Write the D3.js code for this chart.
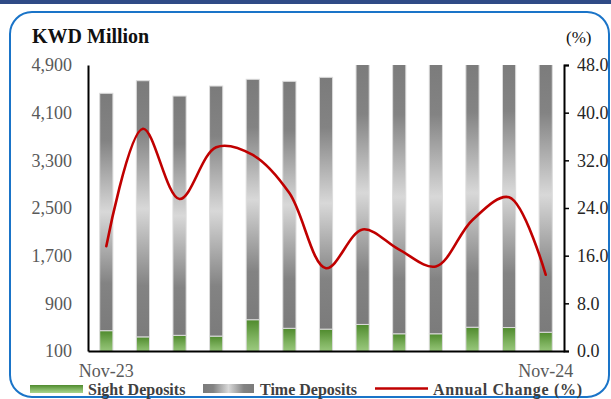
<!DOCTYPE html>
<html>
<head>
<meta charset="utf-8">
<script src="https://cdn.jsdelivr.net/npm/d3@7/dist/d3.min.js"></script>
<style>
  html, body { margin: 0; padding: 0; background: #fff; }
  svg { display: block; font-family: "Liberation Serif", "Times New Roman", serif; }
</style>
</head>
<body>
<svg id="chart" width="611" height="399"></svg>
<script>
// Monthly deposits (KWD million) and their annual change (%)
const months = ["Nov-23","Dec-23","Jan-24","Feb-24","Mar-24","Apr-24","May-24",
                "Jun-24","Jul-24","Aug-24","Sep-24","Oct-24","Nov-24"];
const sightDeposits = [441, 337, 363, 350, 625, 481, 467, 546, 389, 389, 499, 494, 415];
const timeDeposits  = [3984, 4299, 4016, 4197, 4035, 4145, 4226, 4414, 4596, 4601, 4511, 4536, 4605];
const annualChange  = [17.6, 37.3, 25.5, 34.2, 32.9, 26.5, 13.9, 20.4, 17.0, 14.2, 22.0, 25.8, 12.8];

const leftTicks  = [100, 900, 1700, 2500, 3300, 4100, 4900];
const rightTicks = [0, 8, 16, 24, 32, 40, 48];
const xTickLabels = ["Nov-23", "Nov-24"];

const svg = d3.select("#chart");
const defs = svg.append("defs");

// Plot area
const plot = { left: 88, right: 564, top: 65, bottom: 351 };

// Header band and rounded frame
svg.append("rect").attr("x", 0).attr("y", 0).attr("width", 611).attr("height", 4).attr("fill", "#2f4b86");
svg.append("rect")
  .attr("x", 10).attr("y", 12).attr("width", 599).attr("height", 385)
  .attr("rx", 22).attr("ry", 22)
  .attr("fill", "#fff").attr("stroke", "#1a74c8").attr("stroke-width", 2);

// Gradients
const greyStops = [[0, "#7b7b7b"], [0.2, "#838383"], [0.5, "#d8d8d8"], [0.8, "#838383"], [1, "#7b7b7b"]];
const greyGrad = defs.append("linearGradient").attr("id", "greyGrad")
  .attr("x1", 0).attr("y1", 0).attr("x2", 0).attr("y2", 1);
greyStops.forEach(([o, c]) => greyGrad.append("stop").attr("offset", o).attr("stop-color", c));
const greyGradH = defs.append("linearGradient").attr("id", "greyGradH")
  .attr("x1", 0).attr("y1", 0).attr("x2", 1).attr("y2", 0);
greyStops.forEach(([o, c]) => greyGradH.append("stop").attr("offset", o).attr("stop-color", c));
const greenGrad = defs.append("linearGradient").attr("id", "greenGrad")
  .attr("x1", 0).attr("y1", 0).attr("x2", 0).attr("y2", 1);
[[0, "#4f8a2d"], [0.5, "#7fb360"], [1, "#a9d48e"]]
  .forEach(([o, c]) => greenGrad.append("stop").attr("offset", o).attr("stop-color", c));

defs.append("clipPath").attr("id", "plotClip").append("rect")
  .attr("x", plot.left).attr("y", plot.top)
  .attr("width", plot.right - plot.left).attr("height", plot.bottom - plot.top);

// Scales
const x = d3.scaleBand().domain(months).range([plot.left, plot.right])
  .paddingInner(0.64).paddingOuter(0.32);
const yL = d3.scaleLinear().domain([100, 4900]).range([plot.bottom, plot.top]);
const yR = d3.scaleLinear().domain([0, 48]).range([plot.bottom, plot.top]);

// Stacked bars
const rows = months.map((m, i) => ({ month: m, sight: sightDeposits[i], time: timeDeposits[i] }));
const stack = d3.stack().keys(["sight", "time"])(rows);
const fills = { sight: "url(#greenGrad)", time: "url(#greyGrad)" };

const barsG = svg.append("g").attr("clip-path", "url(#plotClip)");
stack.forEach(layer => {
  barsG.append("g").selectAll("rect").data(layer).join("rect")
    .attr("x", d => x(d.data.month))
    .attr("width", x.bandwidth())
    .attr("y", d => yL(d[1]))
    .attr("height", d => yL(d[0]) - yL(d[1]))
    .attr("fill", fills[layer.key])
    .attr("stroke", "#dcdcdc").attr("stroke-width", 1);
});

// Annual change line
const line = d3.line()
  .x((d, i) => x(months[i]) + x.bandwidth() / 2)
  .y(d => yR(d))
  .curve(d3.curveCatmullRom.alpha(0.5));
svg.append("path").datum(annualChange)
  .attr("d", line).attr("fill", "none")
  .attr("stroke", "#c00000").attr("stroke-width", 2.6).attr("stroke-linecap", "round");

// Axes
const axisStyle = (g, color) => {
  g.select(".domain").attr("stroke", "#000").attr("stroke-width", 2);
  g.selectAll(".tick line").attr("stroke", "#000").attr("stroke-width", 1.5);
  g.selectAll(".tick text").attr("fill", color).attr("font-size", 18)
    .attr("font-family", "Liberation Serif, Times New Roman, serif");
};

svg.append("g").attr("transform", `translate(${plot.left},0)`)
  .call(d3.axisLeft(yL).tickValues(leftTicks).tickFormat(d3.format(",")).tickSizeInner(0).tickSizeOuter(0).tickPadding(16))
  .call(g => axisStyle(g, "#595959"));

svg.append("g").attr("transform", `translate(${plot.right},0)`)
  .call(d3.axisRight(yR).tickValues(rightTicks).tickFormat(d3.format(".1f")).tickSizeInner(5).tickSizeOuter(5).tickPadding(8))
  .call(g => axisStyle(g, "#262626"));

svg.append("g").attr("transform", `translate(0,${plot.bottom})`)
  .call(d3.axisBottom(x).tickValues(xTickLabels).tickSizeInner(0).tickSizeOuter(0).tickPadding(13))
  .call(g => axisStyle(g, "#595959"));

// Titles
svg.append("text").attr("x", 32).attr("y", 43)
  .attr("font-size", 20).attr("font-weight", "bold").attr("fill", "#111")
  .text("KWD Million");
svg.append("text").attr("x", 566).attr("y", 43)
  .attr("font-size", 17).attr("fill", "#111")
  .text("(%)");

// Legend
const legend = svg.append("g").attr("font-size", 16).attr("font-weight", "bold").attr("fill", "#404040");
legend.append("rect").attr("x", 30).attr("y", 385).attr("width", 53).attr("height", 8).attr("fill", "url(#greenGrad)");
legend.append("text").attr("x", 88).attr("y", 395).text("Sight Deposits");
legend.append("rect").attr("x", 203).attr("y", 384).attr("width", 51).attr("height", 9).attr("fill", "url(#greyGradH)");
legend.append("text").attr("x", 260).attr("y", 395).text("Time Deposits");
legend.append("line").attr("x1", 375).attr("x2", 428).attr("y1", 388.5).attr("y2", 388.5)
  .attr("stroke", "#c00000").attr("stroke-width", 2.6);
legend.append("text").attr("x", 433).attr("y", 395).attr("letter-spacing", 0.7).text("Annual Change (%)");
</script>
</body>
</html>
